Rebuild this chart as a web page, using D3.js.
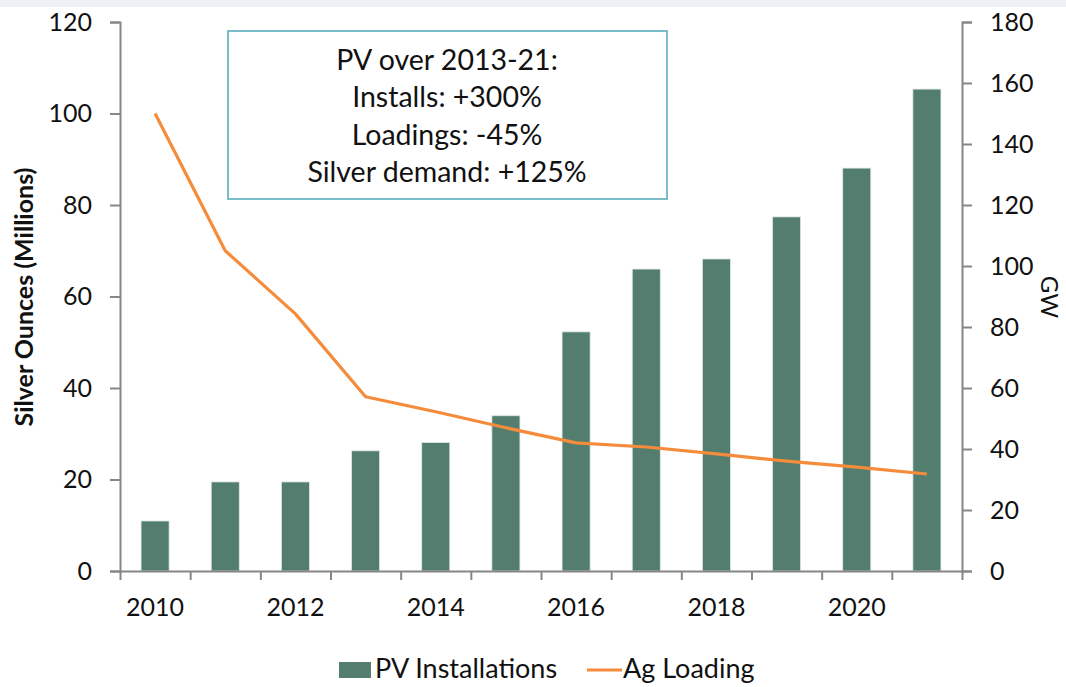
<!DOCTYPE html>
<html>
<head>
<meta charset="utf-8">
<script src="https://cdn.jsdelivr.net/npm/d3@7"></script>
<style>
  body { margin: 0; background: #fff; }
  svg { display: block; font-family: Lato, "Open Sans", sans-serif; }
</style>
</head>
<body>
<svg id="chart" width="1066" height="687"></svg>
<script>
// chart data
var years = [2010, 2011, 2012, 2013, 2014, 2015, 2016, 2017, 2018, 2019, 2020, 2021];
var pvInstalls = [16.4, 29.2, 29.2, 39.4, 42.1, 50.9, 78.4, 99.0, 102.3, 116.1, 132.1, 158.0]; // GW, right axis
var agLoading = [100, 70.0, 56.2, 38.1, 34.8, 31.3, 28.0, 27.1, 25.6, 24.0, 22.7, 21.2]; // left axis
var leftTicks = [0, 20, 40, 60, 80, 100, 120];
var rightTicks = [0, 20, 40, 60, 80, 100, 120, 140, 160, 180];
var yearLabels = [2010, 2012, 2014, 2016, 2018, 2020];
var noteLines = ['PV over 2013-21:', 'Installs: +300%', 'Loadings: -45%', 'Silver demand: +125%'];

function draw() {
    var svg = d3.select('#chart'),
        plotLeft = 120, plotRight = 962, plotTop = 22, plotBottom = 571,
        axisColor = '#868686',
        barColor = '#537d6e',
        lineColor = '#f58c3b',
        textColor = '#111';

    // faint strip along the top of the picture
    svg.append('rect').attr('x', 0).attr('y', 0).attr('width', 1066).attr('height', 7).attr('fill', '#eef1f5');

    var x = d3.scaleBand().domain(years).range([plotLeft, plotRight]).paddingInner(0.6).paddingOuter(0.3),
        xEdge = d3.scaleLinear().domain([0, years.length]).range([plotLeft, plotRight]),
        yLeft = d3.scaleLinear().domain([0, 120]).range([plotBottom, plotTop]),
        yRight = d3.scaleLinear().domain([0, 180]).range([plotBottom, plotTop]);

    // bars
    svg.append('g').selectAll('rect')
        .data(years)
        .enter().append('rect')
        .attr('x', function (d) { return x(d); })
        .attr('width', x.bandwidth())
        .attr('y', function (d, i) { return yRight(pvInstalls[i]); })
        .attr('height', function (d, i) { return plotBottom - yRight(pvInstalls[i]); })
        .attr('fill', barColor)
        .attr('stroke', '#dfe8e4')
        .attr('stroke-width', 0.8);

    // line
    var line = d3.line()
        .x(function (d, i) { return x(years[i]) + x.bandwidth() / 2; })
        .y(function (d) { return yLeft(d); });
    svg.append('path')
        .datum(agLoading)
        .attr('d', line)
        .attr('fill', 'none')
        .attr('stroke', lineColor)
        .attr('stroke-width', 3.2)
        .attr('stroke-linejoin', 'round');

    function styleAxis(g) {
        g.select('.domain').attr('stroke', axisColor).attr('stroke-width', 2);
        g.selectAll('.tick line').attr('stroke', axisColor).attr('stroke-width', 2);
        g.selectAll('text').attr('fill', textColor).attr('font-size', 25)
            .attr('font-family', 'Lato, "Open Sans", sans-serif');
    }

    // left axis
    svg.append('g')
        .attr('transform', 'translate(' + plotLeft + ',0)')
        .call(d3.axisLeft(yLeft).tickValues(leftTicks).tickSize(10).tickSizeOuter(10).tickPadding(18))
        .call(styleAxis);

    // right axis
    svg.append('g')
        .attr('transform', 'translate(' + plotRight + ',0)')
        .call(d3.axisRight(yRight).tickValues(rightTicks).tickSize(10).tickSizeOuter(10).tickPadding(18))
        .call(styleAxis);

    // x axis tick marks at category edges
    svg.append('g')
        .attr('transform', 'translate(0,' + plotBottom + ')')
        .call(d3.axisBottom(xEdge).ticks(years.length).tickFormat('').tickSize(9).tickSizeOuter(0))
        .call(styleAxis);

    // x axis labels
    svg.append('g')
        .attr('transform', 'translate(0,' + plotBottom + ')')
        .call(d3.axisBottom(x).tickValues(yearLabels).tickSize(0).tickPadding(27))
        .call(styleAxis)
        .call(function (g) { g.select('.domain').remove(); });

    // axis titles
    svg.append('text')
        .attr('transform', 'translate(33,297) rotate(-90)')
        .attr('text-anchor', 'middle')
        .attr('font-size', 25)
        .attr('font-weight', 'bold')
        .attr('fill', textColor)
        .text('Silver Ounces (Millions)');

    svg.append('text')
        .attr('transform', 'translate(1041,297) rotate(90)')
        .attr('text-anchor', 'middle')
        .attr('font-size', 24)
        .attr('fill', textColor)
        .text('GW');

    // annotation box
    svg.append('rect')
        .attr('x', 228).attr('y', 31)
        .attr('width', 439).attr('height', 168)
        .attr('fill', '#fff')
        .attr('stroke', '#4fa7b8')
        .attr('stroke-width', 1.5);

    svg.append('g').selectAll('text')
        .data(noteLines)
        .enter().append('text')
        .attr('x', 447)
        .attr('y', function (d, i) { return 70 + i * 37.3; })
        .attr('text-anchor', 'middle')
        .attr('font-size', 28.5)
        .attr('fill', textColor)
        .text(function (d) { return d; });

    // legend
    var legend = svg.append('g');
    legend.append('rect')
        .attr('x', 339).attr('y', 662).attr('width', 32).attr('height', 16)
        .attr('fill', barColor);
    legend.append('text')
        .attr('x', 375).attr('y', 678)
        .attr('font-size', 27).attr('fill', textColor)
        .text('PV Installations');
    legend.append('line')
        .attr('x1', 587).attr('x2', 622).attr('y1', 670).attr('y2', 670)
        .attr('stroke', lineColor).attr('stroke-width', 3.2);
    legend.append('text')
        .attr('x', 623).attr('y', 678)
        .attr('font-size', 27).attr('fill', textColor)
        .text('Ag Loading');
}

draw();
</script>
</body>
</html>
